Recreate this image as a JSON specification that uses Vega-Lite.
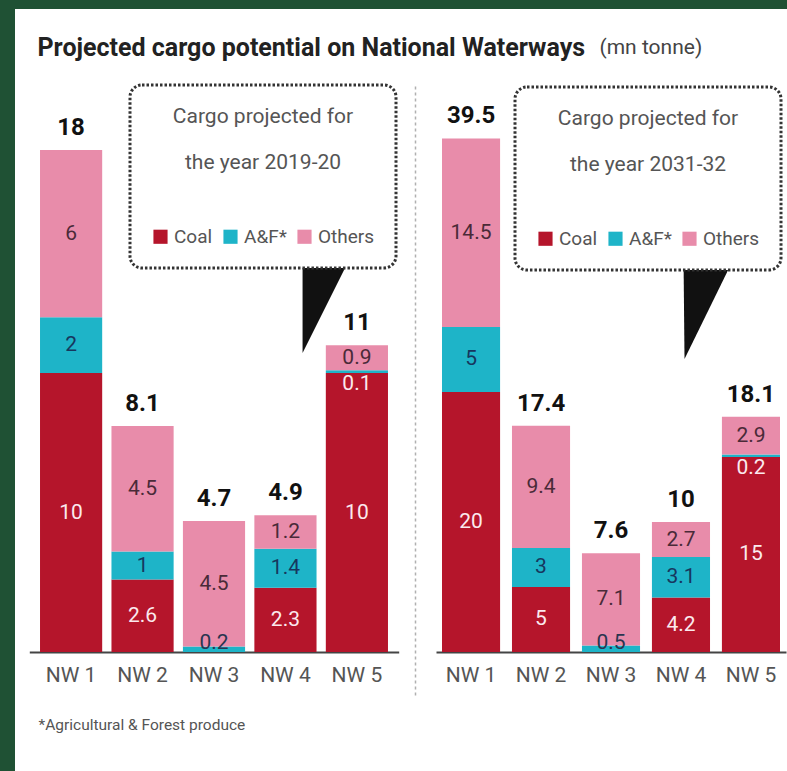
{
  "$schema": "https://vega.github.io/schema/vega-lite/v6.json",
  "width": 787,
  "height": 771,
  "autosize": {"type": "fit", "contains": "padding"},
  "padding": {"left": 15, "top": 9, "right": 0, "bottom": 0},
  "background": "#1f5134",
  "config": {
    "font": "Roboto",
    "view": {"fill": "white", "stroke": null},
    "axis": {"grid": false, "ticks": false, "labelFont": "Roboto", "titleFont": "Roboto"},
    "legend": {
      "titleFont": "Roboto", "titleFontSize": 21, "titleFontWeight": "normal", "titleColor": "#555555",
      "titleLineHeight": 46, "titleAnchor": "middle", "titleAlign": "center", "titleLimit": 500, "titlePadding": 54,
      "labelFont": "Roboto", "labelFontSize": 19, "labelColor": "#555555", "labelLimit": 200, "labelOffset": 4,
      "symbolType": "square", "symbolSize": 200, "symbolStrokeWidth": 0, "symbolOpacity": 1,
      "columnPadding": 8, "padding": 21,
      "strokeColor": "#333333", "strokeDash": [2.5, 2], "strokeWidth": 3, "cornerRadius": 12, "fillColor": "white"
    }
  },
  "datasets": {
    "y2019": [
      {"nw": "NW 1", "cat": "Coal", "value": 10},
      {"nw": "NW 1", "cat": "A&F*", "value": 2},
      {"nw": "NW 1", "cat": "Others", "value": 6},
      {"nw": "NW 2", "cat": "Coal", "value": 2.6},
      {"nw": "NW 2", "cat": "A&F*", "value": 1},
      {"nw": "NW 2", "cat": "Others", "value": 4.5},
      {"nw": "NW 3", "cat": "A&F*", "value": 0.2},
      {"nw": "NW 3", "cat": "Others", "value": 4.5},
      {"nw": "NW 4", "cat": "Coal", "value": 2.3},
      {"nw": "NW 4", "cat": "A&F*", "value": 1.4},
      {"nw": "NW 4", "cat": "Others", "value": 1.2},
      {"nw": "NW 5", "cat": "Coal", "value": 10},
      {"nw": "NW 5", "cat": "A&F*", "value": 0.1},
      {"nw": "NW 5", "cat": "Others", "value": 0.9}
    ],
    "y2031": [
      {"nw": "NW 1", "cat": "Coal", "value": 20},
      {"nw": "NW 1", "cat": "A&F*", "value": 5},
      {"nw": "NW 1", "cat": "Others", "value": 14.5},
      {"nw": "NW 2", "cat": "Coal", "value": 5},
      {"nw": "NW 2", "cat": "A&F*", "value": 3},
      {"nw": "NW 2", "cat": "Others", "value": 9.4},
      {"nw": "NW 3", "cat": "A&F*", "value": 0.5},
      {"nw": "NW 3", "cat": "Others", "value": 7.1},
      {"nw": "NW 4", "cat": "Coal", "value": 4.2},
      {"nw": "NW 4", "cat": "A&F*", "value": 3.1},
      {"nw": "NW 4", "cat": "Others", "value": 2.7},
      {"nw": "NW 5", "cat": "Coal", "value": 15},
      {"nw": "NW 5", "cat": "A&F*", "value": 0.2},
      {"nw": "NW 5", "cat": "Others", "value": 2.9}
    ]
  },
  "layer": [
    {
      "data": {"name": "y2019"},
      "transform": [
        {"calculate": "indexof(['Coal','A&F*','Others'], datum.cat)", "as": "ord"},
        {"stack": "value", "groupby": ["nw"], "sort": [{"field": "ord", "order": "ascending"}], "as": ["v0", "v1"]}
      ],
      "mark": {"type": "bar", "stroke": null},
      "encoding": {
        "x": {"field": "nw", "type": "nominal", "scale": {"type": "band", "domain": ["NW 1", "NW 2", "NW 3", "NW 4", "NW 5"], "range": [14.3, 383.7], "paddingInner": 0.13, "paddingOuter": 0.15},
          "axis": {"orient": "bottom", "offset": -119, "domainColor": "#444444", "domainWidth": 2, "labelFontSize": 21, "labelColor": "#555555", "labelPadding": 12, "labelAngle": 0,
            "title": "*Agricultural & Forest produce", "titleX": 23, "titleY": 72, "titleAlign": "left", "titleAnchor": "start", "titleBaseline": "middle", "titleFontSize": 15.5, "titleFontWeight": "normal", "titleColor": "#555555"}},
        "y": {"field": "v1", "type": "quantitative", "scale": {"domain": [-4.267, 23.055], "range": [762, 0], "nice": false, "zero": false},
          "axis": {"orient": "left", "domain": false, "labels": false, "title": "Projected cargo potential on National Waterways", "titleX": 22, "titleY": 38, "titleAngle": 0, "titleAlign": "left", "titleBaseline": "middle", "titleFontSize": 25, "titleFontWeight": "bold", "titleColor": "#222222"}},
        "y2": {"field": "v0"},
        "color": {"field": "cat", "type": "nominal", "scale": {"domain": ["Coal", "A&F*", "Others"], "range": ["#b5152b", "#1eb4c8", "#e88caa"]},
          "legend": {"orient": "none", "legendX": 115, "legendY": 76, "direction": "horizontal", "columns": 3, "title": ["Cargo projected for", "the year 2019-20"]}}
      }
    },
    {
      "data": {"name": "y2019"},
      "transform": [
        {"calculate": "indexof(['Coal','A&F*','Others'], datum.cat)", "as": "ord"},
        {"stack": "value", "groupby": ["nw"], "sort": [{"field": "ord", "order": "ascending"}], "as": ["v0", "v1"]},
        {"calculate": "(datum.v0 + datum.v1) / 2", "as": "mid"},
        {"filter": "datum.value >= 0.6"}
      ],
      "mark": {"type": "text", "fontSize": 21, "baseline": "middle"},
      "encoding": {
        "x": {"field": "nw", "type": "nominal", "scale": {"type": "band", "domain": ["NW 1", "NW 2", "NW 3", "NW 4", "NW 5"], "range": [14.3, 383.7], "paddingInner": 0.13, "paddingOuter": 0.15}, "axis": null},
        "y": {"field": "mid", "type": "quantitative", "scale": {"domain": [-4.267, 23.055], "range": [762, 0], "nice": false, "zero": false}, "axis": null},
        "text": {"field": "value", "type": "quantitative", "format": "~g"},
        "color": {"condition": [{"test": "datum.cat === 'Coal'", "value": "#fbe9ee"}, {"test": "datum.cat === 'A&F*'", "value": "#17375e"}], "value": "#4a2a38"}
      }
    },
    {
      "data": {"name": "y2019"},
      "transform": [
        {"calculate": "indexof(['Coal','A&F*','Others'], datum.cat)", "as": "ord"},
        {"stack": "value", "groupby": ["nw"], "sort": [{"field": "ord", "order": "ascending"}], "as": ["v0", "v1"]},
        {"filter": "datum.value < 0.6 && datum.v0 === 0"}
      ],
      "mark": {"type": "text", "fontSize": 21, "baseline": "alphabetic", "dy": -3, "color": "#2a3550"},
      "encoding": {
        "x": {"field": "nw", "type": "nominal", "scale": {"type": "band", "domain": ["NW 1", "NW 2", "NW 3", "NW 4", "NW 5"], "range": [14.3, 383.7], "paddingInner": 0.13, "paddingOuter": 0.15}, "axis": null},
        "y": {"field": "v0", "type": "quantitative", "scale": {"domain": [-4.267, 23.055], "range": [762, 0], "nice": false, "zero": false}, "axis": null},
        "text": {"field": "value", "type": "quantitative", "format": "~g"}
      }
    },
    {
      "data": {"name": "y2019"},
      "transform": [
        {"calculate": "indexof(['Coal','A&F*','Others'], datum.cat)", "as": "ord"},
        {"stack": "value", "groupby": ["nw"], "sort": [{"field": "ord", "order": "ascending"}], "as": ["v0", "v1"]},
        {"filter": "datum.value < 0.6 && datum.v0 > 0"}
      ],
      "mark": {"type": "text", "fontSize": 21, "baseline": "top", "dy": 0, "color": "#fbe9ee"},
      "encoding": {
        "x": {"field": "nw", "type": "nominal", "scale": {"type": "band", "domain": ["NW 1", "NW 2", "NW 3", "NW 4", "NW 5"], "range": [14.3, 383.7], "paddingInner": 0.13, "paddingOuter": 0.15}, "axis": null},
        "y": {"field": "v0", "type": "quantitative", "scale": {"domain": [-4.267, 23.055], "range": [762, 0], "nice": false, "zero": false}, "axis": null},
        "text": {"field": "value", "type": "quantitative", "format": "~g"}
      }
    },
    {
      "data": {"name": "y2019"},
      "transform": [{"aggregate": [{"op": "sum", "field": "value", "as": "total"}], "groupby": ["nw"]}],
      "mark": {"type": "text", "fontSize": 24, "fontWeight": "bold", "baseline": "alphabetic", "dy": -15, "color": "#111111"},
      "encoding": {
        "x": {"field": "nw", "type": "nominal", "scale": {"type": "band", "domain": ["NW 1", "NW 2", "NW 3", "NW 4", "NW 5"], "range": [14.3, 383.7], "paddingInner": 0.13, "paddingOuter": 0.15}, "axis": null},
        "y": {"field": "total", "type": "quantitative", "scale": {"domain": [-4.267, 23.055], "range": [762, 0], "nice": false, "zero": false}, "axis": null},
        "text": {"field": "total", "type": "quantitative", "format": ".1~f"}
      }
    },
    {
      "data": {"name": "y2019"},
      "transform": [{"filter": "datum.nw === 'NW 1' && datum.cat === 'Coal'"}],
      "mark": {"type": "point", "shape": "M-0.5,-1L0.5,-1L-0.5,1Z", "size": 8649, "filled": true, "color": "#111111", "opacity": 1, "strokeWidth": 0},
      "encoding": {
        "x": {"datum": "NW 5", "type": "nominal", "bandPosition": 0, "scale": {"type": "band", "domain": ["NW 1", "NW 2", "NW 3", "NW 4", "NW 5"], "range": [14.3, 383.7], "paddingInner": 0.13, "paddingOuter": 0.15}, "axis": null},
        "y": {"datum": 12.39, "type": "quantitative", "scale": {"domain": [-4.267, 23.055], "range": [762, 0], "nice": false, "zero": false}, "axis": null}
      }
    },
    {
      "data": {"name": "y2031"},
      "transform": [
        {"calculate": "indexof(['Coal','A&F*','Others'], datum.cat)", "as": "ord"},
        {"stack": "value", "groupby": ["nw"], "sort": [{"field": "ord", "order": "ascending"}], "as": ["v0", "v1"]}
      ],
      "mark": {"type": "bar", "stroke": null},
      "encoding": {
        "x": {"field": "nw", "type": "nominal", "scale": {"type": "band", "domain": ["NW 1", "NW 2", "NW 3", "NW 4", "NW 5"], "range": [421, 771], "paddingInner": 0.17, "paddingOuter": 0.0857},
          "axis": {"orient": "bottom", "offset": -119, "domainColor": "#444444", "domainWidth": 2, "labelFontSize": 21, "labelColor": "#555555", "labelPadding": 12, "labelAngle": 0, "title": null}},
        "y": {"field": "v1", "type": "quantitative", "scale": {"domain": [-3.308, 43.615], "range": [686, 76], "nice": false, "zero": false},
          "axis": {"orient": "left", "offset": -400, "domain": true, "domainDash": [3, 3], "domainColor": "#b0b0b0", "domainWidth": 1.5, "labels": false,
            "title": "(mn tonne)", "titleX": 184, "titleY": 38, "titleAngle": 0, "titleAlign": "left", "titleBaseline": "middle", "titleFontSize": 21, "titleFontWeight": "normal", "titleColor": "#444444"}},
        "y2": {"field": "v0"},
        "color": {"field": "cat", "type": "nominal", "scale": {"domain": ["Coal", "A&F*", "Others"], "range": ["#b5152b", "#1eb4c8", "#e88caa"]},
          "legend": {"orient": "none", "legendX": 500, "legendY": 78, "direction": "horizontal", "columns": 3, "title": ["Cargo projected for", "the year 2031-32"]}}
      }
    },
    {
      "data": {"name": "y2031"},
      "transform": [
        {"calculate": "indexof(['Coal','A&F*','Others'], datum.cat)", "as": "ord"},
        {"stack": "value", "groupby": ["nw"], "sort": [{"field": "ord", "order": "ascending"}], "as": ["v0", "v1"]},
        {"calculate": "(datum.v0 + datum.v1) / 2", "as": "mid"},
        {"filter": "datum.value >= 0.6"}
      ],
      "mark": {"type": "text", "fontSize": 21, "baseline": "middle"},
      "encoding": {
        "x": {"field": "nw", "type": "nominal", "scale": {"type": "band", "domain": ["NW 1", "NW 2", "NW 3", "NW 4", "NW 5"], "range": [421, 771], "paddingInner": 0.17, "paddingOuter": 0.0857}, "axis": null},
        "y": {"field": "mid", "type": "quantitative", "scale": {"domain": [-3.308, 43.615], "range": [686, 76], "nice": false, "zero": false}, "axis": null},
        "text": {"field": "value", "type": "quantitative", "format": "~g"},
        "color": {"condition": [{"test": "datum.cat === 'Coal'", "value": "#fbe9ee"}, {"test": "datum.cat === 'A&F*'", "value": "#17375e"}], "value": "#4a2a38"}
      }
    },
    {
      "data": {"name": "y2031"},
      "transform": [
        {"calculate": "indexof(['Coal','A&F*','Others'], datum.cat)", "as": "ord"},
        {"stack": "value", "groupby": ["nw"], "sort": [{"field": "ord", "order": "ascending"}], "as": ["v0", "v1"]},
        {"filter": "datum.value < 0.6 && datum.v0 === 0"}
      ],
      "mark": {"type": "text", "fontSize": 21, "baseline": "alphabetic", "dy": -3, "color": "#2a3550"},
      "encoding": {
        "x": {"field": "nw", "type": "nominal", "scale": {"type": "band", "domain": ["NW 1", "NW 2", "NW 3", "NW 4", "NW 5"], "range": [421, 771], "paddingInner": 0.17, "paddingOuter": 0.0857}, "axis": null},
        "y": {"field": "v0", "type": "quantitative", "scale": {"domain": [-3.308, 43.615], "range": [686, 76], "nice": false, "zero": false}, "axis": null},
        "text": {"field": "value", "type": "quantitative", "format": "~g"}
      }
    },
    {
      "data": {"name": "y2031"},
      "transform": [
        {"calculate": "indexof(['Coal','A&F*','Others'], datum.cat)", "as": "ord"},
        {"stack": "value", "groupby": ["nw"], "sort": [{"field": "ord", "order": "ascending"}], "as": ["v0", "v1"]},
        {"filter": "datum.value < 0.6 && datum.v0 > 0"}
      ],
      "mark": {"type": "text", "fontSize": 21, "baseline": "top", "dy": 0, "color": "#fbe9ee"},
      "encoding": {
        "x": {"field": "nw", "type": "nominal", "scale": {"type": "band", "domain": ["NW 1", "NW 2", "NW 3", "NW 4", "NW 5"], "range": [421, 771], "paddingInner": 0.17, "paddingOuter": 0.0857}, "axis": null},
        "y": {"field": "v0", "type": "quantitative", "scale": {"domain": [-3.308, 43.615], "range": [686, 76], "nice": false, "zero": false}, "axis": null},
        "text": {"field": "value", "type": "quantitative", "format": "~g"}
      }
    },
    {
      "data": {"name": "y2031"},
      "transform": [{"aggregate": [{"op": "sum", "field": "value", "as": "total"}], "groupby": ["nw"]}],
      "mark": {"type": "text", "fontSize": 24, "fontWeight": "bold", "baseline": "alphabetic", "dy": -15, "color": "#111111"},
      "encoding": {
        "x": {"field": "nw", "type": "nominal", "scale": {"type": "band", "domain": ["NW 1", "NW 2", "NW 3", "NW 4", "NW 5"], "range": [421, 771], "paddingInner": 0.17, "paddingOuter": 0.0857}, "axis": null},
        "y": {"field": "total", "type": "quantitative", "scale": {"domain": [-3.308, 43.615], "range": [686, 76], "nice": false, "zero": false}, "axis": null},
        "text": {"field": "total", "type": "quantitative", "format": ".1~f"}
      }
    },
    {
      "data": {"name": "y2031"},
      "transform": [{"filter": "datum.nw === 'NW 1' && datum.cat === 'Coal'"}],
      "mark": {"type": "point", "shape": "M-0.5,-1L0.5,-1L-0.48,1Z", "size": 9604, "filled": true, "color": "#111111", "opacity": 1, "strokeWidth": 0},
      "encoding": {
        "x": {"datum": "NW 4", "type": "nominal", "bandPosition": 0.966, "scale": {"type": "band", "domain": ["NW 1", "NW 2", "NW 3", "NW 4", "NW 5"], "range": [421, 771], "paddingInner": 0.17, "paddingOuter": 0.0857}, "axis": null},
        "y": {"datum": 26.3, "type": "quantitative", "scale": {"domain": [-3.308, 43.615], "range": [686, 76], "nice": false, "zero": false}, "axis": null}
      }
    }
  ],
  "resolve": {
    "scale": {"x": "independent", "y": "independent", "color": "independent"},
    "axis": {"x": "independent", "y": "independent"},
    "legend": {"color": "independent"}
  }
}
